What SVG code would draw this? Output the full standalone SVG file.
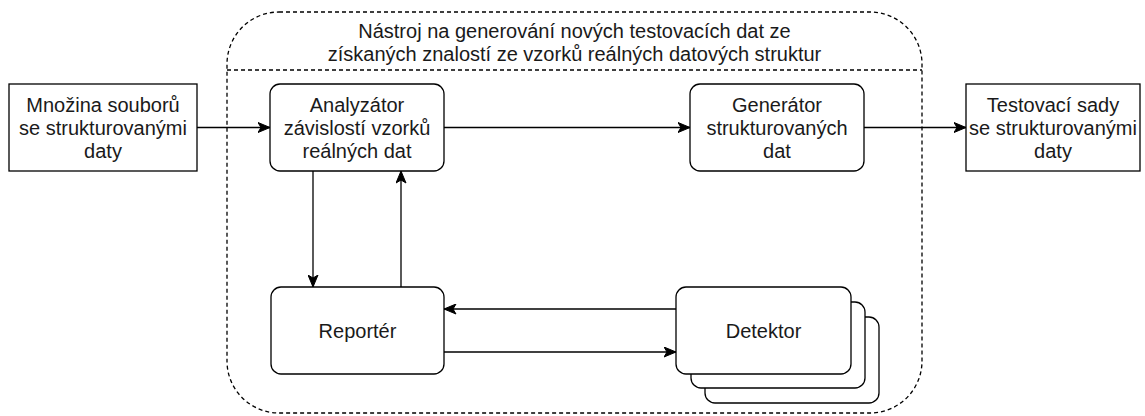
<svg xmlns="http://www.w3.org/2000/svg" width="1145" height="416" viewBox="0 0 1145 416">
  <style>
    .box { fill: #ffffff; stroke: #000000; stroke-width: 1.3; }
    .frame { fill: none; stroke: #000000; stroke-width: 1.3; stroke-dasharray: 4 3; }
    .lbl { font-family: "Liberation Sans", Arial, sans-serif; font-size: 20px; fill: #1a1a1a; text-anchor: middle; }
    .edge { fill: none; stroke: #000000; stroke-width: 1.3; }
  </style>
  <defs>
    <marker id="arrow" markerUnits="userSpaceOnUse" markerWidth="13" markerHeight="11" viewBox="0 0 13 11" refX="12.5" refY="5.5" orient="auto">
      <path d="M0.5,0.5 L12.5,5.5 L0.5,10.5 L3.5,5.5 Z" fill="#000000" stroke="#000000" stroke-width="1"/>
    </marker>
  </defs>

  <rect width="1145" height="416" fill="#ffffff"/>

  <!-- tool container -->
  <g id="tool">
    <rect class="frame" x="227" y="12" width="695" height="401" rx="52" ry="52"/>
    <line class="frame" x1="227" y1="70" x2="922" y2="70"/>
    <text class="lbl" x="574.5" y="38">Nástroj na generování nových testovacích dat ze</text>
    <text class="lbl" x="574.5" y="61">získaných znalostí ze vzorků reálných datových struktur</text>
  </g>

  <!-- connectors -->
  <g id="connectors">
    <line class="edge" x1="197" y1="127.5" x2="270" y2="127.5" marker-end="url(#arrow)"/>
    <line class="edge" x1="444" y1="127.5" x2="690" y2="127.5" marker-end="url(#arrow)"/>
    <line class="edge" x1="864" y1="127.5" x2="966" y2="127.5" marker-end="url(#arrow)"/>
    <line class="edge" x1="313" y1="171" x2="313" y2="287" marker-end="url(#arrow)"/>
    <line class="edge" x1="401" y1="287" x2="401" y2="171" marker-end="url(#arrow)"/>
    <line class="edge" x1="676" y1="309" x2="444" y2="309" marker-end="url(#arrow)"/>
    <line class="edge" x1="444" y1="352" x2="676" y2="352" marker-end="url(#arrow)"/>
  </g>

  <g id="input">
    <rect class="box" x="9" y="84" width="188" height="87"/>
    <text class="lbl" x="103" y="112">Množina souborů</text>
    <text class="lbl" x="103" y="135">se strukturovanými</text>
    <text class="lbl" x="103" y="158">daty</text>
  </g>

  <g id="analyzer">
    <rect class="box" x="270" y="84" width="174" height="87" rx="10" ry="10"/>
    <text class="lbl" x="357" y="112">Analyzátor</text>
    <text class="lbl" x="357" y="135">závislostí vzorků</text>
    <text class="lbl" x="357" y="158">reálných dat</text>
  </g>

  <g id="generator">
    <rect class="box" x="690" y="84" width="174" height="87" rx="10" ry="10"/>
    <text class="lbl" x="777" y="112">Generátor</text>
    <text class="lbl" x="777" y="135">strukturovaných</text>
    <text class="lbl" x="777" y="158">dat</text>
  </g>

  <g id="output">
    <rect class="box" x="966" y="84" width="174" height="87"/>
    <text class="lbl" x="1053" y="112">Testovací sady</text>
    <text class="lbl" x="1053" y="135">se strukturovanými</text>
    <text class="lbl" x="1053" y="158">daty</text>
  </g>

  <g id="reporter">
    <rect class="box" x="271" y="287" width="173" height="87" rx="10" ry="10"/>
    <text class="lbl" x="357.5" y="338">Reportér</text>
  </g>

  <g id="detector">
    <rect class="box" x="705" y="317" width="174" height="86" rx="10" ry="10"/>
    <rect class="box" x="691" y="302" width="174" height="86" rx="10" ry="10"/>
    <rect class="box" x="676" y="287" width="175" height="87" rx="10" ry="10"/>
    <text class="lbl" x="763.5" y="338">Detektor</text>
  </g>
</svg>
